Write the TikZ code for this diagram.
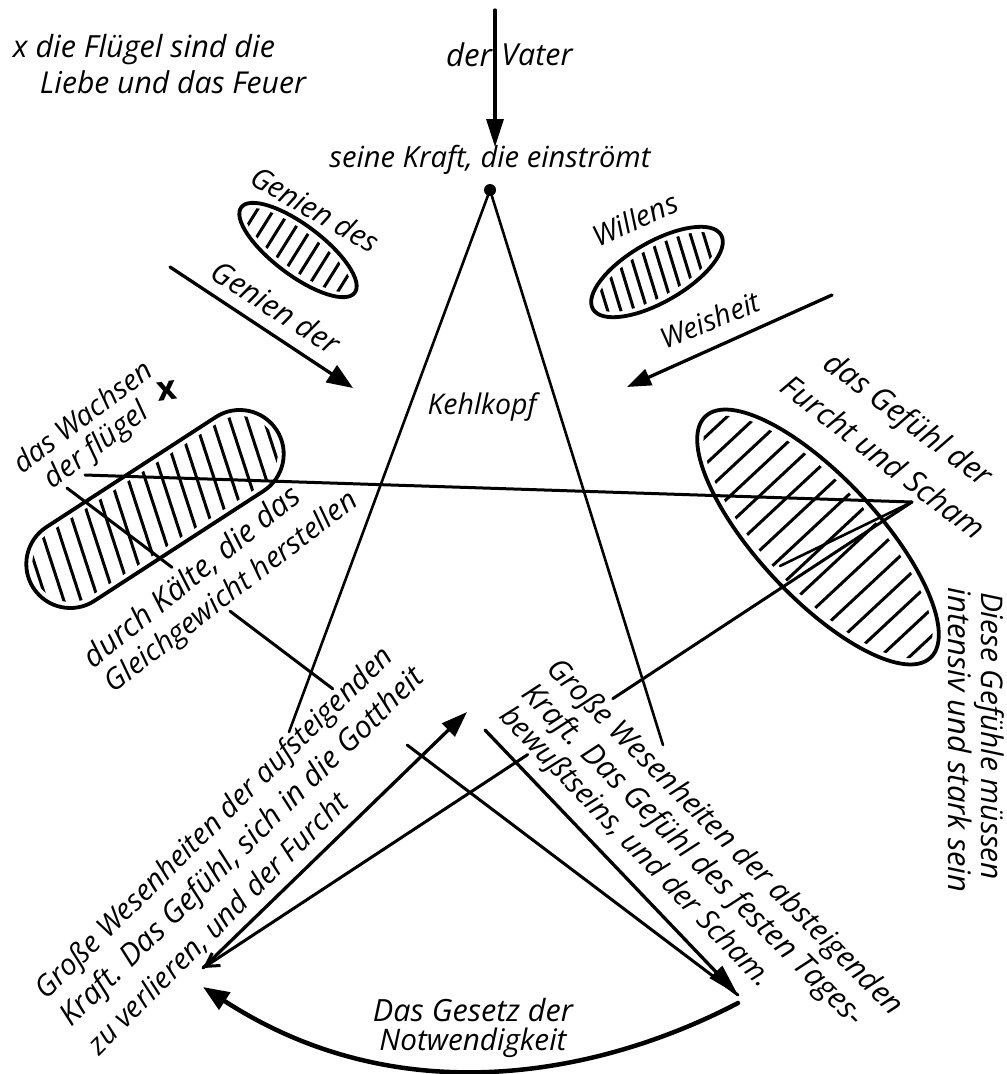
\documentclass[tikz,border=0pt]{standalone}
\usepackage{fontspec}
\setmainfont{Open Sans}
\usetikzlibrary{arrows.meta,calc}
\newcommand{\fw}[2]{\resizebox{#1pt}{!}{\itshape #2}}
\tikzset{
  txt/.style={inner sep=0pt,outer sep=0pt},
  thinln/.style={line width=2.6pt},
  midln/.style={line width=3pt},
  arr/.style={line width=3.3pt},
  outline/.style={line width=3.8pt},
  hatch/.style={line width=3pt},
}
\begin{document}
\begin{tikzpicture}[x=1pt,y=1pt,line cap=round,line join=round]
\useasboundingbox (0,0) rectangle (1007,-1074);
\fill[white] (0,0) rectangle (1007,-1074);

% ---------------- texts ----------------
\node[txt] (t1) at (144,-50) {\fw{262}{x die Flügel sind die}};
\node[txt] (t2) at (173,-82) {\fw{266}{Liebe und das Feuer}};
\node[txt] (der) at (469,-55) {\fw{46}{der}};
\node[txt] (vater) at (537,-55) {\fw{71}{Vater}};
\node[txt] (kraft) at (490,-160) {\fw{321}{seine Kraft, die einströmt}};
\node[txt,rotate=-30] (gdes) at (315,-209) {\fw{142}{Genien des}};
\node[txt,rotate=-32.5] (gder) at (276,-307) {\fw{145}{Genien der}};
\node[txt,rotate=24] (will) at (635,-219) {\fw{90}{Willens}};
\node[txt,rotate=22] (weis) at (710,-320) {\fw{105}{Weisheit}};
\node[txt] (kehl) at (482,-407) {\fw{109}{Kehlkopf}};
\node[txt,rotate=37] (wach1) at (82,-416) {\fw{166}{das Wachsen}};
\node[txt,rotate=37] (wach2) at (97,-447) {\fw{122}{der flügel}};
\node[txt,rotate=8] (xmark) at (167,-391) {\fontsize{34}{34}\selectfont\bfseries x};
\node[txt,rotate=39] (kal1) at (192,-577) {\fw{269}{durch Kälte, die das}};
\node[txt,rotate=37.5] (kal2) at (232,-593) {\fw{310}{Gleichgewicht herstellen}};
\node[txt,rotate=-37] (fu1) at (907,-421) {\fw{201}{das Gefühl der}};
\node[txt,rotate=-37.5] (fu2) at (884,-457) {\fw{247}{Furcht und Scham}};
\node[txt,rotate=-90] (di1) at (989,-736) {\fw{288}{Diese Gefühle müssen}};
\node[txt,rotate=-90] (di2) at (960,-740) {\fw{305}{intensiv und stark sein}};
\node[txt,rotate=44.5] (auf1) at (215,-824) {\fw{488}{Große Wesenheiten der aufsteigenden}};
\node[txt,rotate=44.5] (auf2) at (243,-848) {\fw{497}{Kraft. Das Gefühl, sich in die Gottheit}};
\node[txt,rotate=45] (auf3) at (218,-924) {\fw{355}{zu verlieren, und der Furcht}};
\node[txt,rotate=-45] (ab1) at (724,-838) {\fw{490}{Große Wesenheiten der absteigenden}};
\node[txt,rotate=-45] (ab2) at (692,-856) {\fw{470}{Kraft. Das Gefühl des festen Tages-}};
\node[txt,rotate=-46] (ab3) at (635,-848) {\fw{378}{bewußtseins, und der Scham.}};
\node[txt] (ges1) at (473,-1010) {\fw{200}{Das Gesetz der}};
\node[txt] (ges2) at (473,-1043) {\fw{187}{Notwendigkeit}};

% ---------------- hatched shapes ----------------
% Genien
\begin{scope}[shift={(298,-250)},rotate=-37]
  \draw[outline] (0,0) ellipse [x radius=71, y radius=25];
  \begin{scope}
    \clip (0,0) ellipse [x radius=65, y radius=19];
    \foreach \u in {-56,-42,...,57} \draw[hatch] (\u,0) ++(95:-30) -- ++(95:60);
  \end{scope}
\end{scope}
% Willens
\begin{scope}[shift={(657,-272)},rotate=30]
  \draw[outline] (0,0) ellipse [x radius=74, y radius=30];
  \begin{scope}
    \clip (0,0) ellipse [x radius=68, y radius=24];
    \foreach \u in {-60,-47,...,61} \draw[hatch] (\u,0) ++(77:-40) -- ++(77:80);
  \end{scope}
\end{scope}
% left wing
\begin{scope}[shift={(155,-509)},rotate=33]
  \draw[outline,rounded corners=44pt] (-145,-44) rectangle (145,44);
  \begin{scope}
    \clip[rounded corners=38pt] (-139,-38) rectangle (139,38);
    \foreach \u in {-136,-119,...,137} \draw[hatch] (\u,0) ++(75:-50) -- ++(75:100);
  \end{scope}
\end{scope}
% right wing
\begin{scope}[shift={(818,-537)},rotate=-47]
  \draw[outline] (0,0) ellipse [x radius=165, y radius=60];
  \begin{scope}
    \clip (0,0) ellipse [x radius=158, y radius=53];
    \foreach \u in {-150,-130,...,151} \draw[hatch] (\u,0) ++(90:-60) -- ++(90:120);
  \end{scope}
\end{scope}

% ---------------- coordinates ----------------
\coordinate (vtop) at (495,-10);
\coordinate (vtip) at (495,-147);
\coordinate (apex) at (490,-190);
\coordinate (BL) at (289,-732);
\coordinate (BR) at (663,-745);
\coordinate (L) at (85,-475);
\coordinate (L2) at (67,-488);
\coordinate (R) at (912,-502);
\coordinate (Rs) at (780,-566);
\coordinate (TR) at (738,-995);
\coordinate (TL) at (203,-968);
\coordinate (AU) at (467,-712);
\coordinate (S1) at (485,-730);
\coordinate (CR) at (738,-1003);
\coordinate (CL) at (203,-987);
\coordinate (gs) at (170,-267);
\coordinate (gt) at (353,-388);
\coordinate (ws) at (832,-295);
\coordinate (wt) at (627,-387);

% ---------------- connectors ----------------
\draw[arr,-{Triangle[length=28pt,width=17pt]}] (vtop) -- (vtip);
\fill (apex) circle (6);
\draw[thinln] (apex) -- (BL);
\draw[thinln] (apex) -- (BR);
\draw[midln] (L) -- (R);
\draw[thinln] (R) -- (Rs);
\draw[midln] (R) -- ($(R)!0.422!(TL)$);
\draw[midln,-{Straight Barb[length=13pt,width=15pt]}] ($(R)!0.542!(TL)$) -- (TL);
\draw[midln] (L2) -- ($(L2)!0.1565!(TR)$);
\draw[midln] ($(L2)!0.243!(TR)$) -- ($(L2)!0.396!(TR)$);
\draw[midln] ($(L2)!0.507!(TR)$) -- (TR);
\draw[arr,-{Triangle[length=26pt,width=18pt]}] (TL) -- (AU);
\draw[arr,-{Triangle[length=32pt,width=17pt]}] (S1) -- (TR);
\draw[arr,-{Triangle[length=26pt,width=20pt]}] (gs) -- (gt);
\draw[arr,-{Triangle[length=24pt,width=17pt]}] (ws) -- (wt);
\draw[line width=4.5pt,-{Triangle[length=26pt,width=20pt]}] (CR) .. controls (600,-1075) and (400,-1115) .. (CL);
\end{tikzpicture}
\end{document}
